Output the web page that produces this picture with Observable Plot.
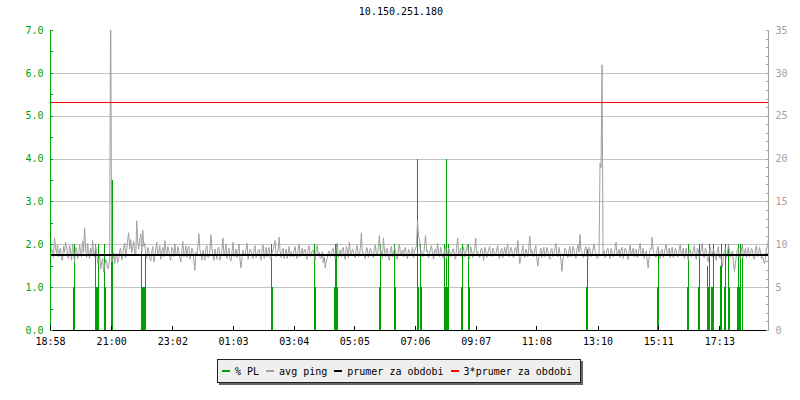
<!DOCTYPE html>
<html><head><meta charset="utf-8">
<script src="https://cdn.jsdelivr.net/npm/d3@7"></script>
<script src="https://cdn.jsdelivr.net/npm/@observablehq/plot@0.6"></script>
<style>
body{margin:0;background:#fff}
#wrap{position:relative;width:800px;height:400px;font-family:"DejaVu Sans Mono",monospace;font-size:10px;background:#fff}
#chart{position:absolute;left:0;top:0}
#title{position:absolute;left:0;top:6px;width:802px;text-align:center;color:#000;line-height:12px}
#legend{position:absolute;left:217px;top:359px;width:358px;height:22px;background:#efefef;border:1px solid #222;box-shadow:2px 2px 0 #666;display:flex;align-items:center;padding-left:4px;gap:7px;color:#000}
.item{display:flex;align-items:center;white-space:pre}
.sw{width:8px;height:2px;margin-right:5px}
</style></head><body>
<div id="wrap"><div id="chart"></div><div id="title"></div><div id="legend"></div></div>
<script>
const titleText = "10.150.251.180";
const tickMinutes = [0,122,244,365,486,607,728,849,970,1092,1213,1335];
const tickLabels = ["18:58","21:00","23:02","01:03","03:04","05:05","07:06","09:07","11:08","13:10","15:11","17:13"];
const leftTicks = [0,1,2,3,4,5,6,7];
// avg ping (ms) at minutes 0, 4, 8, ...
const pingMsEven = [
10.2,9.4,10.8,9.0,8.6,9.6,8.2,9.1,9.9,8.4,9.3,10.1,8.0,9.5,8.7,9.2,10.4,12.0,8.5,9.0,
9.6,10.5,8.6,9.2,8.1,7.2,8.4,7.6,8.0,7.4,40,8.2,7.8,9.0,8.4,9.6,8.8,10.2,9.4,11.4,
10.6,9.8,9.0,12.8,9.5,11.3,11.7,10.2,8.4,9.3,8.1,9.8,8.6,10.3,9.1,8.3,9.7,10.5,8.8,9.4,
8.2,9.5,10.1,8.7,9.2,8.0,10.4,9.0,8.5,9.8,8.9,9.3,7.0,8.8,11.3,8.9,9.4,8.2,9.9,8.6,
11.2,8.8,9.5,8.3,9.7,8.6,10.8,9.2,8.4,9.6,8.1,10.3,9.0,8.5,10.1,7.3,9.4,8.7,10.2,8.9,
9.3,8.4,9.9,8.8,9.5,8.2,10.0,9.1,8.6,9.7,8.3,9.4,10.5,8.7,10.9,8.5,9.6,9.0,8.4,9.8,
9.2,8.6,9.8,8.4,10.1,9.0,8.7,9.5,8.3,9.9,8.8,9.4,8.2,10.0,9.1,8.5,7.9,7.3,8.4,9.3,
8.9,9.6,8.4,10.2,9.0,8.6,9.7,8.3,9.4,10.3,8.8,9.2,8.5,9.9,8.7,11.4,9.1,8.4,9.6,8.9,
9.3,8.5,10.0,8.8,11.1,9.2,10.8,8.6,9.5,8.2,9.8,8.9,9.4,8.3,10.1,9.0,8.6,9.7,8.4,9.2,
9.0,8.5,9.6,12.8,10.6,9.3,8.7,11.1,9.4,8.8,9.9,8.3,9.5,10.2,8.6,9.1,8.4,9.8,8.9,9.3,
8.7,9.5,8.3,10.8,9.1,8.6,9.7,8.9,10.0,8.4,9.3,8.8,10.8,9.2,8.5,9.6,8.2,9.4,8.9,9.8,
8.6,9.3,8.8,9.9,8.4,9.6,9.1,8.7,10.1,8.9,9.4,8.5,9.7,10.5,7.8,9.2,8.8,9.5,8.6,11.0,
9.4,8.6,9.9,7.5,9.0,8.5,9.7,8.8,9.3,8.3,9.6,8.9,10.2,8.6,9.1,6.9,8.7,9.4,8.5,9.8,
8.9,9.5,8.4,10.0,11.2,9.1,8.6,9.8,8.3,9.4,8.8,10.1,9.0,8.5,19.5,31.0,9.3,8.7,9.6,8.4,
9.2,8.8,10.3,9.0,8.5,9.7,8.9,9.4,8.3,10.0,9.1,8.6,9.5,8.8,10.2,9.0,8.4,9.3,7.3,9.6,
10.9,9.0,8.6,9.8,8.4,9.5,8.9,10.1,9.2,8.5,9.7,8.8,9.3,8.6,10.0,9.1,8.4,9.6,8.2,9.4,
8.7,9.9,8.3,9.4,8.8,10.2,8.5,9.3,8.0,9.7,8.6,9.1,8.2,9.8,8.9,7.4,9.2,8.5,10.0,8.6,
9.3,6.9,8.8,9.6,8.4,10.1,9.0,8.5,9.7,8.9,9.4,8.3,9.9,8.7,9.2,8.6,7.8,9.5,10.6
];
// avg ping (ms) at minutes 2, 6, 10, ...
const pingMsOdd = [
9.1,8.5,9.7,10.0,9.4,8.3,9.8,10.3,8.6,9.9,8.2,9.0,9.7,8.4,10.0,8.6,9.1,9.6,10.2,8.4,
8.7,9.0,9.9,7.9,8.8,7.9,6.8,8.3,7.2,8.5,8.0,9.1,8.6,7.9,9.3,8.2,9.7,8.5,10.6,9.5,
9.1,10.4,8.7,10.2,10.5,9.2,9.8,8.8,9.7,8.4,9.2,8.0,9.5,8.7,9.9,9.2,8.6,9.3,9.8,8.5,
9.7,8.6,9.0,9.8,8.4,9.3,8.6,9.9,9.6,8.3,9.6,8.1,9.1,9.9,9.4,8.2,8.8,9.6,8.5,9.3,
9.6,8.2,8.9,9.6,8.2,9.4,8.7,10.1,9.1,8.3,9.2,8.6,9.5,9.3,8.2,8.6,8.9,9.5,8.3,9.5,
8.7,9.6,8.5,9.3,8.6,9.6,8.4,9.7,9.2,8.4,9.0,10.0,8.6,9.4,9.2,9.3,8.4,9.5,9.1,8.6,
8.9,9.4,8.7,9.5,8.6,9.6,9.3,8.5,9.7,8.6,9.3,8.6,9.5,8.8,8.4,9.2,8.6,8.1,9.1,8.6,
9.4,8.7,9.5,8.5,9.4,9.5,8.6,9.8,8.5,9.1,9.5,8.6,9.6,8.6,9.6,9.0,8.7,9.7,8.5,9.6,
8.7,9.6,8.8,9.8,9.0,8.4,9.4,9.6,8.4,9.4,8.6,9.7,8.5,9.6,8.7,9.4,9.5,8.6,9.5,8.7,
9.7,9.2,9.9,11.0,9.0,8.6,9.9,9.2,8.5,9.6,8.9,9.4,8.7,9.0,9.7,8.6,9.5,8.5,9.6,8.6,
9.5,8.6,9.6,8.9,9.6,9.3,8.6,9.7,8.7,9.8,8.5,9.6,9.0,8.6,9.4,8.8,9.7,8.5,9.5,8.7,
9.6,8.7,9.5,8.6,9.3,8.5,9.7,9.5,8.6,9.7,8.6,9.5,8.9,9.1,8.5,9.9,8.5,9.1,9.8,9.0,
8.8,9.5,8.3,8.6,9.6,9.2,8.6,9.7,8.6,9.4,8.6,9.5,8.7,9.7,8.2,8.4,9.6,8.7,9.4,8.6,
9.8,8.6,9.5,9.1,9.4,8.5,9.6,8.6,9.7,8.6,9.5,9.2,8.4,8.8,19.0,9.0,8.5,9.5,8.7,9.6,
8.6,9.7,8.7,9.5,9.4,8.4,9.6,8.6,9.3,8.7,9.6,9.2,8.5,9.6,8.7,9.6,8.9,8.2,8.6,9.5,
9.3,8.6,9.5,8.7,9.3,8.5,9.6,8.7,9.6,9.3,8.5,9.6,8.6,9.5,8.8,9.6,9.0,8.6,9.5,8.6,
9.4,8.8,9.6,8.5,9.6,8.7,9.6,8.5,9.2,8.7,9.5,8.5,9.4,8.5,8.2,8.6,9.6,8.9,9.4,8.8,
8.0,7.8,9.5,8.5,9.4,8.6,9.6,9.2,8.6,9.6,8.5,9.5,8.6,9.7,8.4,8.2,8.5,9.9
];
const plMinutes = [46,48, 90,92,94,96, 108,110, 122,124, 181,183,185,187,189, 441,443, 526,528, 566,568,570,572, 656,658, 686,688, 732,734,738,740, 786,788,790,792,794, 820,822, 834,836, 1069,1071, 1210,1212, 1270,1272, 1292,1294, 1310,1312,1314, 1318,1320,1322, 1336,1338, 1344,1346, 1352,1354, 1370,1372,1374,1376,1380];
const plPercent = [1,2, 2,1,1,2, 2,1, 3.5,3.5, 2,1,1,1,1.8, 2,1, 2,1, 1,2,2,1, 1,2, 2,1, 4,1,2,1, 2,1,4,1,2, 1,2, 2,1, 1,1.9, 1,1.9, 1,2, 1,2, 1.5,1,2, 1,1,2, 1.5,2, 1,2, 2,1, 1,2,1,2,1.7];
const avgPing = 8.85;
const msPerUnit = 5;
const legendLabels = ["% PL","avg ping","prumer za obdobi","3*prumer za obdobi"];
const legendColors = ["#00a000","#a0a0a0","#000000","#ff0000"];

const G = legendColors[0], GR = legendColors[1];
const xEnd = (pingMsEven.length - 1) * 4;
const pingData = [];
pingMsEven.forEach((v, i) => {
  pingData.push({t: i * 4, v: v / msPerUnit});
  if (i < pingMsOdd.length) pingData.push({t: i * 4 + 2, v: pingMsOdd[i] / msPerUnit});
});
const plData = plMinutes.map((t, i) => ({t, v: plPercent[i]}));
const crisp = {shapeRendering: "crispEdges"};

const chart = Plot.plot({
  width: 800, height: 400,
  marginLeft: 50, marginRight: 32, marginTop: 30, marginBottom: 70,
  style: {fontFamily: "DejaVu Sans Mono", fontSize: "10px", background: "transparent"},
  x: {type: "linear", domain: [0, xEnd]},
  y: {domain: [0, 7]},
  marks: [
    Plot.gridY(leftTicks.filter(d => d > 0 && d < 7), {stroke: "#c4c4c4", strokeOpacity: 1, ...crisp}),
    Plot.ruleX(plData, {x: "t", y1: 0, y2: "v", stroke: G, strokeWidth: 1, ...crisp}),
    Plot.line(pingData, {x: "t", y: "v", stroke: GR, strokeWidth: 1, clip: true}),
    Plot.ruleY([avgPing / msPerUnit], {stroke: legendColors[2], strokeWidth: 2, ...crisp}),
    Plot.ruleY([3 * avgPing / msPerUnit], {stroke: legendColors[3], strokeWidth: 1, ...crisp}),
    Plot.ruleY([0], {stroke: "#000", ...crisp}),
    Plot.ruleX([0], {y1: 0, y2: 7, stroke: G, ...crisp}),
    Plot.ruleX([xEnd], {y1: 0, y2: 7, stroke: GR, ...crisp}),
    Plot.axisY(leftTicks, {anchor: "left", tickSize: 0, tickPadding: 7, tickFormat: d3.format(".1f"), color: G, label: null}),
    Plot.axisY(d3.range(0, 7.001, 0.5), {anchor: "left", tickSize: 3, dx: 3, tickFormat: () => "", color: G, label: null, ...crisp}),
    Plot.axisY(leftTicks, {anchor: "right", tickSize: 0, tickPadding: 7, tickFormat: d => String(d * msPerUnit), color: GR, label: null}),
    Plot.axisY(d3.range(0, 7.001, 1 / msPerUnit), {anchor: "right", tickSize: 3, dx: -3, tickFormat: () => "", color: GR, label: null, ...crisp}),
    Plot.axisX(tickMinutes, {anchor: "bottom", tickSize: 0, tickPadding: 7, tickFormat: d => tickLabels[tickMinutes.indexOf(d)], color: "#000", label: null}),
    Plot.axisX(tickMinutes, {anchor: "bottom", tickSize: 4, dy: -4, tickFormat: () => "", color: "#000", label: null, ...crisp})
  ]
});
document.getElementById("chart").appendChild(chart);
document.getElementById("title").textContent = titleText;
const leg = document.getElementById("legend");
legendLabels.forEach((lab, i) => {
  const it = document.createElement("div");
  it.className = "item";
  const sw = document.createElement("span");
  sw.className = "sw";
  sw.style.background = legendColors[i];
  const tx = document.createElement("span");
  tx.textContent = lab;
  it.appendChild(sw); it.appendChild(tx);
  leg.appendChild(it);
});
</script>
</body></html>
